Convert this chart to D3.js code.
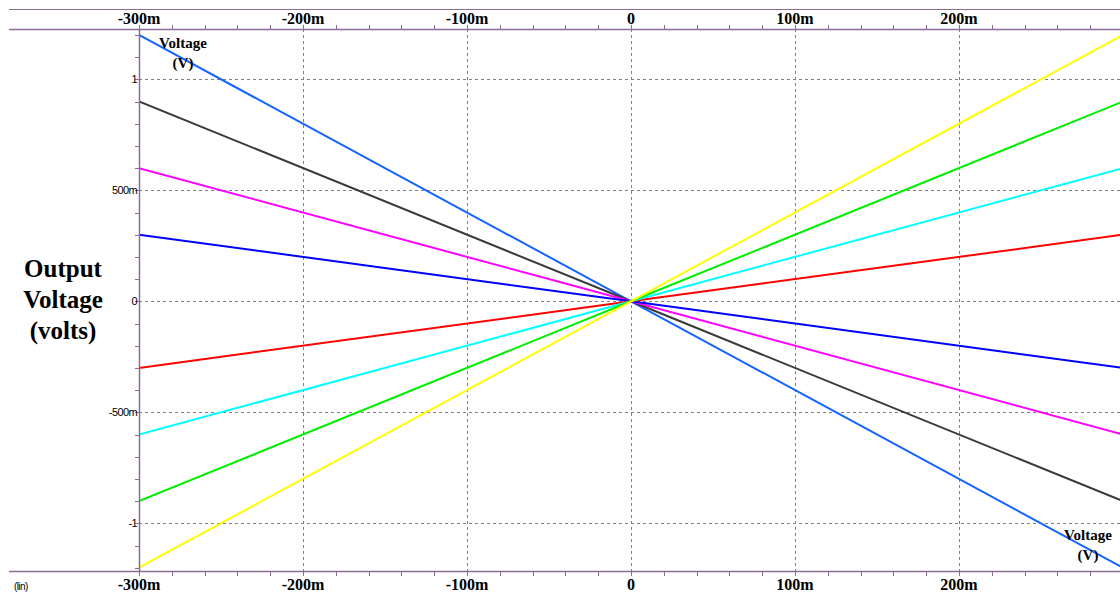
<!DOCTYPE html>
<html>
<head>
  <meta charset="utf-8">
  <script src="https://d3js.org/d3.v7.min.js"></script>
  <style>
    body { margin: 0; background: #fff; }
    svg { display: block; }
    .xlab { font-family: 'Liberation Serif', 'Times New Roman', serif; font-weight: bold; font-size: 16px; }
    .ylab { font-family: 'Liberation Sans', Arial, sans-serif; font-size: 11px; letter-spacing: -0.6px; }
    .title { font-family: 'Liberation Serif', 'Times New Roman', serif; font-weight: bold; font-size: 25px; }
    .vlab { font-family: 'Liberation Serif', 'Times New Roman', serif; font-weight: bold; font-size: 15px; }
  </style>
</head>
<body>
<script>
  // sweep values (volts) and output voltage per trace
  const sweep = [-0.3, 0, 0.3];
  const traceBlue    = [1.2, 0, -1.2];
  const traceBlack   = [0.9, 0, -0.9];
  const traceMagenta = [0.6, 0, -0.6];
  const traceNavy    = [0.3, 0, -0.3];
  const traceRed     = [-0.3, 0, 0.3];
  const traceCyan    = [-0.6, 0, 0.6];
  const traceGreen   = [-0.9, 0, 0.9];
  const traceYellow  = [-1.2, 0, 1.2];

  const xTicks = [-0.3, -0.2, -0.1, 0, 0.1, 0.2];
  const xTickLabels = ['-300m', '-200m', '-100m', '0', '100m', '200m'];
  const yTicks = [1, 0.5, 0, -0.5, -1];
  const yTickLabels = ['1', '500m', '0', '-500m', '-1'];

  const traces = [
    { vals: traceBlue, color: '#1464ff' },
    { vals: traceBlack, color: '#3a3a3a' },
    { vals: traceMagenta, color: '#ff00ff' },
    { vals: traceNavy, color: '#0000ff' },
    { vals: traceRed, color: '#ff0000' },
    { vals: traceCyan, color: '#00ffff' },
    { vals: traceGreen, color: '#00ee00' },
    { vals: traceYellow, color: '#ffff00' }
  ];

  const W = 1120, H = 597;
  const axisColor = '#8c6c92';
  const plotLeft = 139, plotTop = 29, plotBottom = 571;

  const svg = d3.select('body').append('svg')
    .attr('width', W).attr('height', H);

  const x = d3.scaleLinear().domain([-0.3, 0.3]).range([plotLeft, 1123]);
  const y = d3.scaleLinear().domain([-1, 1]).range([523.3, 79.3]);

  // grid
  svg.append('g').selectAll('line')
    .data(xTicks.filter(d => d > -0.3))
    .join('line')
    .attr('x1', d => Math.round(x(d)) + 0.5).attr('x2', d => Math.round(x(d)) + 0.5)
    .attr('y1', plotTop).attr('y2', plotBottom)
    .attr('stroke', '#808080').attr('stroke-dasharray', '3,3');
  svg.append('g').selectAll('line')
    .data(yTicks)
    .join('line')
    .attr('x1', plotLeft).attr('x2', W)
    .attr('y1', d => Math.round(y(d)) + 0.5).attr('y2', d => Math.round(y(d)) + 0.5)
    .attr('stroke', '#808080').attr('stroke-dasharray', '3,3');

  // traces
  svg.append('clipPath').attr('id', 'clip')
    .append('rect').attr('x', plotLeft).attr('y', plotTop)
    .attr('width', W - plotLeft).attr('height', plotBottom - plotTop);

  const line = d3.line()
    .x((d, i) => x(sweep[i]))
    .y(d => y(d));

  svg.append('g').attr('clip-path', 'url(#clip)')
    .selectAll('path')
    .data(traces)
    .join('path')
    .attr('d', d => line(d.vals))
    .attr('fill', 'none')
    .attr('stroke', d => d.color)
    .attr('stroke-width', 2);

  // frame lines
  svg.append('line').attr('x1', 9).attr('x2', W).attr('y1', 9.5).attr('y2', 9.5)
    .attr('stroke', axisColor);
  svg.append('line').attr('x1', 9).attr('x2', W).attr('y1', plotTop + 0.5).attr('y2', plotTop + 0.5)
    .attr('stroke', axisColor).attr('stroke-width', 1.5);
  svg.append('line').attr('x1', 9).attr('x2', W).attr('y1', plotBottom + 0.5).attr('y2', plotBottom + 0.5)
    .attr('stroke', axisColor).attr('stroke-width', 1.5);
  svg.append('line').attr('x1', plotLeft + 0.5).attr('x2', plotLeft + 0.5)
    .attr('y1', plotTop).attr('y2', plotBottom)
    .attr('stroke', axisColor).attr('stroke-width', 1.5);

  // minor ticks
  const xMinor = d3.range(-15, 16).map(i => i * 0.02);
  svg.append('g').selectAll('line')
    .data(xMinor)
    .join('line')
    .attr('x1', d => Math.round(x(d)) + 0.5).attr('x2', d => Math.round(x(d)) + 0.5)
    .attr('y1', plotTop - 4).attr('y2', plotTop)
    .attr('stroke', axisColor);
  svg.append('g').selectAll('line')
    .data(xMinor)
    .join('line')
    .attr('x1', d => Math.round(x(d)) + 0.5).attr('x2', d => Math.round(x(d)) + 0.5)
    .attr('y1', plotBottom).attr('y2', plotBottom + 5)
    .attr('stroke', axisColor);
  const yMinor = d3.range(-12, 13).map(i => i * 0.1);
  svg.append('g').selectAll('line')
    .data(yMinor)
    .join('line')
    .attr('x1', plotLeft - 4).attr('x2', plotLeft)
    .attr('y1', d => Math.round(y(d)) + 0.5).attr('y2', d => Math.round(y(d)) + 0.5)
    .attr('stroke', axisColor);

  // x labels top and bottom
  svg.append('g').selectAll('text')
    .data(xTicks)
    .join('text')
    .attr('class', 'xlab')
    .attr('x', d => x(d)).attr('y', 24)
    .attr('text-anchor', 'middle')
    .text((d, i) => xTickLabels[i]);
  svg.append('g').selectAll('text')
    .data(xTicks)
    .join('text')
    .attr('class', 'xlab')
    .attr('x', d => x(d)).attr('y', 590)
    .attr('text-anchor', 'middle')
    .text((d, i) => xTickLabels[i]);

  // y labels
  svg.append('g').selectAll('text')
    .data(yTicks)
    .join('text')
    .attr('class', 'ylab')
    .attr('x', 137).attr('y', d => y(d) + 4)
    .attr('text-anchor', 'end')
    .text((d, i) => yTickLabels[i]);

  svg.append('text').attr('class', 'ylab')
    .attr('x', 14).attr('y', 590).style('font-size', '10px').text('(lin)');

  // axis title
  const title = svg.append('text').attr('class', 'title').attr('text-anchor', 'middle');
  ['Output', 'Voltage', '(volts)'].forEach((t, i) => {
    title.append('tspan').attr('x', 63).attr('y', 277 + i * 31).text(t);
  });

  // trace labels
  const v1 = svg.append('text').attr('class', 'vlab').attr('text-anchor', 'middle');
  v1.append('tspan').attr('x', 183).attr('y', 48).text('Voltage');
  v1.append('tspan').attr('x', 183).attr('y', 68).text('(V)');
  const v2 = svg.append('text').attr('class', 'vlab').attr('text-anchor', 'middle');
  v2.append('tspan').attr('x', 1088).attr('y', 540).text('Voltage');
  v2.append('tspan').attr('x', 1088).attr('y', 560).text('(V)');
</script>
</body>
</html>
